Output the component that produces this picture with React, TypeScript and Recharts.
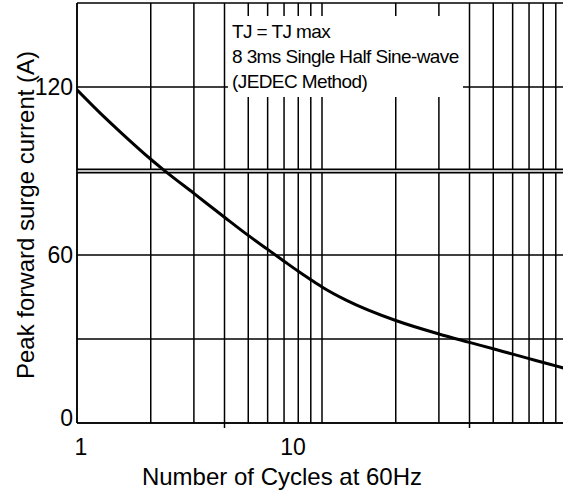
import { CartesianGrid, Line, LineChart, ReferenceLine, XAxis, YAxis } from 'recharts';

const FONT = '"Liberation Sans", Arial, sans-serif';

// surge curve
const cycles = [1, 1.25, 1.5, 2, 2.25, 3, 4, 5, 6, 7, 8, 9, 10, 12.6, 20, 30, 40, 50, 60, 70, 80, 90, 100];
const current = [119, 110.5, 104, 94.2, 90.5, 82, 73.5, 67, 62, 57.8, 54.2, 51.2, 48.6, 43.8, 36.6, 31.8, 28.8, 26.5, 24.6, 23, 21.6, 20.4, 19.3];

const gridX = [1, 2, 3, 4, 5, 6, 7, 8, 9, 10, 20, 30, 40, 50, 60, 70, 80, 90, 100];
const xLabels = [1, 10];
const longTicks = [4, 40];
const gridY = [0, 30, 60, 90, 120, 150];
const yLabels = [0, 60, 120];
const doubleRule = 90;

const noteLines = ['TJ = TJ max', '8 3ms Single Half Sine-wave', '(JEDEC Method)'];

const data = cycles.map((x, i) => ({ x, y: current[i] }));

// the original puts "10" well left of its gridline
const labelShift: Record<number, number> = { 1: 4, 10: -29 };

function XTick({ x, y, payload }: any) {
  const v = payload.value;
  return (
    <g>
      {longTicks.includes(v) && <line x1={x} x2={x} y1={y} y2={y + 5} stroke="#000" strokeWidth={1.5} />}
      {xLabels.includes(v) && (
        <text x={x + (labelShift[v] ?? 0)} y={y + 32} textAnchor="middle" fontSize={23} fill="#000">
          {v}
        </text>
      )}
    </g>
  );
}

function YTick({ x, y, payload }: any) {
  const v = payload.value;
  if (!yLabels.includes(v)) return null;
  return (
    <text x={x} y={v === 0 ? y - 5 : y} textAnchor="end" dominantBaseline="central" fontSize={23} fill="#000">
      {v}
    </text>
  );
}

export default function App() {
  return (
    <div style={{ position: 'relative', width: 563, height: 495, overflow: 'hidden', fontFamily: FONT, background: '#fff' }}>
      <style>{'body{margin:0;overflow:hidden}'}</style>
      <LineChart width={570} height={495} data={data} margin={{ top: 3, right: 3, bottom: 0, left: 0 }}>
        <CartesianGrid stroke="#000" strokeWidth={1.5} />
        <XAxis
          dataKey="x"
          type="number"
          scale="log"
          domain={[1, 100]}
          ticks={gridX}
          interval={0}
          allowDataOverflow
          height={72}
          tickSize={0}
          tickMargin={0}
          tickLine={false}
          axisLine={{ stroke: '#000', strokeWidth: 1.5 }}
          tick={<XTick />}
          label={{
            content: ({ viewBox }: any) => (
              <text x={viewBox.x + viewBox.width / 2 - 40} y={viewBox.y + 62} textAnchor="middle" fontSize={24} fill="#000">
                Number of Cycles at 60Hz
              </text>
            ),
          }}
        />
        <YAxis
          type="number"
          domain={[0, 150]}
          ticks={gridY}
          interval={0}
          width={77}
          tickSize={4}
          tickMargin={0}
          tickLine={false}
          axisLine={{ stroke: '#000', strokeWidth: 1.5 }}
          tick={<YTick />}
          label={{
            content: ({ viewBox }: any) => {
              const cx = viewBox.x + 25;
              const cy = viewBox.y + viewBox.height / 2 + 2;
              return (
                <text x={cx} y={cy} transform={`rotate(-90 ${cx} ${cy})`} textAnchor="middle" dominantBaseline="central" fontSize={24} fill="#000">
                  Peak forward surge current (A)
                </text>
              );
            },
          }}
        />
        <ReferenceLine y={doubleRule} stroke="#000" strokeWidth={5} />
        <ReferenceLine y={doubleRule} stroke="#fff" strokeWidth={1.5} />
        <Line type="monotone" dataKey="y" stroke="#000" strokeWidth={3} dot={false} isAnimationActive={false} />
      </LineChart>
      <div
        style={{
          position: 'absolute',
          left: 228,
          top: 16,
          width: 235,
          height: 81,
          background: '#fff',
          boxSizing: 'border-box',
          padding: '3px 0 0 4px',
          fontSize: 19,
          lineHeight: '25px',
          letterSpacing: -0.6,
          color: '#000',
          whiteSpace: 'nowrap',
        }}
      >
        {noteLines.map((t) => (
          <div key={t}>{t}</div>
        ))}
      </div>
    </div>
  );
}
